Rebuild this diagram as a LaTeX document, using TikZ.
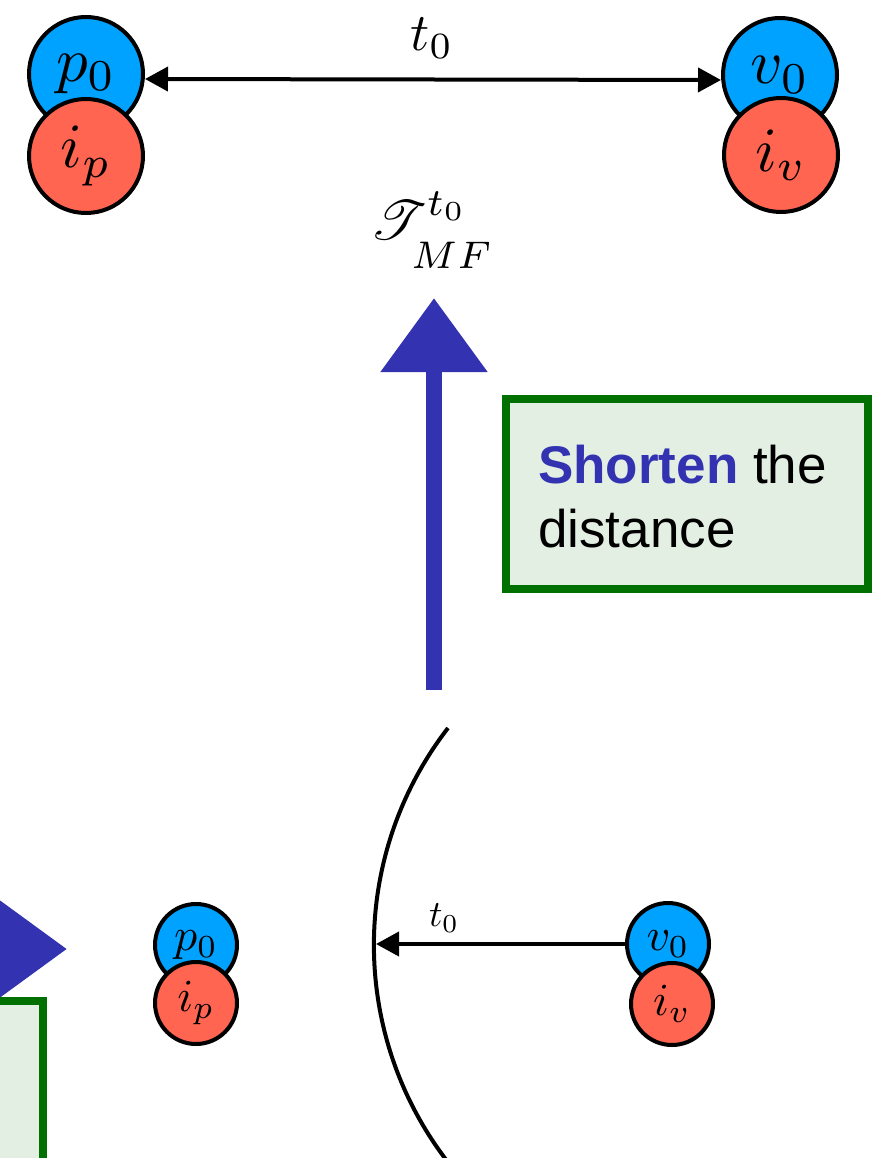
\documentclass[tikz,border=0pt]{standalone}
\usepackage[no-math]{fontspec}
\newfontfamily\arial{Liberation Sans}
\usepackage{mathrsfs}
\usepackage{graphicx}
\usetikzlibrary{arrows.meta}
\definecolor{cblue}{RGB}{0,162,255}
\definecolor{cred}{RGB}{255,101,80}
\definecolor{abl}{RGB}{51,51,178}
\definecolor{gborder}{RGB}{0,112,0}
\definecolor{gfill}{RGB}{227,239,227}
\newcommand{\circbig}[1]{\scalebox{6.3}{$#1$}}
\newcommand{\circsmall}[1]{\scalebox{4.6}{$#1$}}
\begin{document}
\begin{tikzpicture}[x=1pt,y=1pt,
  big/.style={circle,draw=black,line width=4pt,minimum size=114pt,inner sep=0pt},
  small/.style={circle,draw=black,line width=4pt,minimum size=82pt,inner sep=0pt},
  bl/.style={fill=cblue}, rd/.style={fill=cred},
  tipk/.tip={Triangle[length=23pt,width=24pt]},
  conn/.style={line width=4pt},
  bigarrow/.style={draw=abl,line width=16pt,-{Triangle[length=74pt,width=103pt,fill=abl]}},
  note/.style={draw=gborder,fill=gfill,line width=8pt},
  notetxt/.style={anchor=base west,inner sep=0pt,font=\arial\fontsize{53}{64}\selectfont}]
\useasboundingbox (0,0) rectangle (881,-1158);
\clip (0,0) rectangle (881,-1158);
% top row
\node[big,bl] (p0) at (86,-74) {\circbig{p_0}};
\node[big,rd] (ip) at (86,-156) {\circbig{i_p}};
\node[big,bl] (v0) at (780,-75) {\circbig{v_0}};
\node[big,rd] (iv) at (781,-155) {\circbig{i_v}};
\draw[conn,tipk-tipk] ([yshift=-5pt]p0.east) -- ([yshift=-5pt]v0.west);
\node[inner sep=0pt] (t0top) at (432,-38) {\scalebox{5.3}{$t_0$}};
\node[inner sep=0pt] (tmf) at (432,-230) {\scalebox{5.5}{$\mathscr{T}^{t_0}_{\rule{0pt}{7pt}MF}$}};
% big up arrow
\coordinate (ua) at (434,-690);
\coordinate (ub) at (434,-298);
\draw[bigarrow] (ua) -- (ub);
% note box right
\draw[note] (506,-399) rectangle (868,-589);
\node[notetxt] (l1) at (538,-483) {\textcolor{abl}{\bfseries Shorten} the};
\node[notetxt] (l2) at (538,-547) {distance};
% bottom left arrow and box
\coordinate (la) at (-200,-949);
\coordinate (lb) at (67,-949);
\draw[bigarrow] (la) -- (lb);
\draw[note] (-50,-1001) rectangle (43,-1250);
% bottom circles
\node[small,bl] (p0s) at (196,-945) {\circsmall{p_0}};
\node[small,rd] (ips) at (196,-1003) {\circsmall{i_p}};
\node[small,bl] (v0s) at (668,-944) {\circsmall{v_0}};
\node[small,rd] (ivs) at (672,-1004) {\circsmall{i_v}};
% arc and arrow
\draw[line width=4pt] (448,-728) arc[start angle=142.3, end angle=222, radius=355];
\coordinate (hit) at (376,-944);
\draw[conn,-tipk] (v0s.west) -- (hit);
\node[inner sep=0pt] (t0bot) at (444,-918) {\scalebox{3.7}{$t_0$}};
\end{tikzpicture}
\end{document}
